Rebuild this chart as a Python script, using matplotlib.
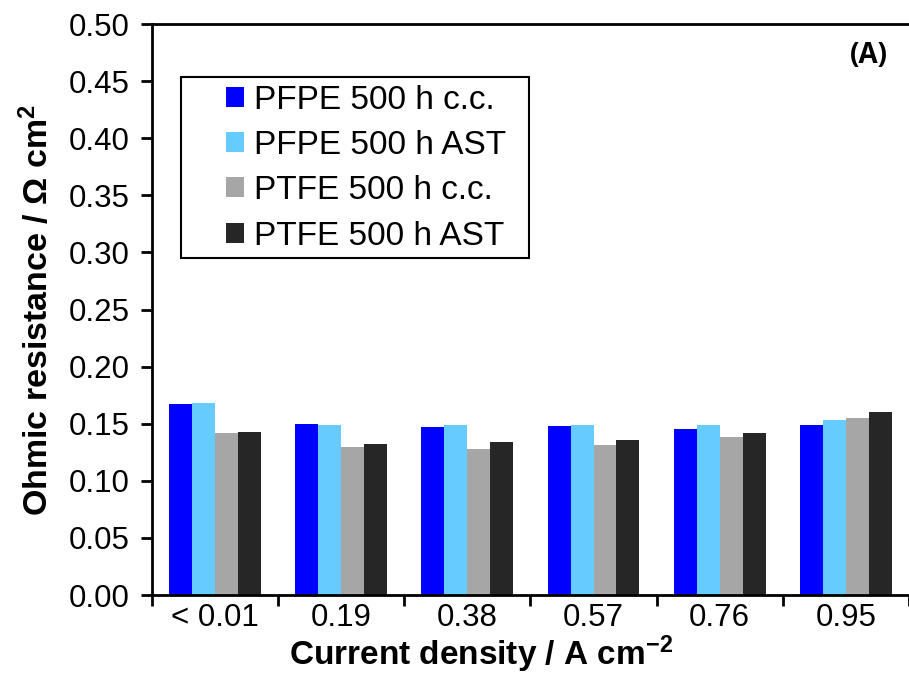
import matplotlib.pyplot as plt
from matplotlib.patches import Rectangle
import numpy as np

plt.rcParams['font.family'] = ['Liberation Sans', 'DejaVu Sans']
plt.rcParams['mathtext.fontset'] = 'custom'
plt.rcParams['mathtext.rm'] = 'Liberation Sans:bold'
plt.rcParams['mathtext.default'] = 'rm'

# Data
categories = ['< 0.01', '0.19', '0.38', '0.57', '0.76', '0.95']
series_names = ['PFPE 500 h c.c.', 'PFPE 500 h AST', 'PTFE 500 h c.c.', 'PTFE 500 h AST']
pfpe_cc = [0.167, 0.150, 0.147, 0.148, 0.145, 0.149]
pfpe_ast = [0.168, 0.149, 0.149, 0.149, 0.149, 0.153]
ptfe_cc = [0.142, 0.130, 0.128, 0.131, 0.138, 0.155]
ptfe_ast = [0.143, 0.132, 0.134, 0.136, 0.142, 0.160]
colors = ['#0000FF', '#66CCFF', '#A6A6A6', '#262626']

series = [pfpe_cc, pfpe_ast, ptfe_cc, ptfe_ast]

fig = plt.figure(figsize=(9.09, 6.77), dpi=100)
ax = fig.add_axes([0.167, 0.121, 0.833, 0.8435])

x = np.arange(len(categories))
w = 0.182
for i, (vals, name, c) in enumerate(zip(series, series_names, colors)):
    ax.bar(x + (i - 1.5) * w, vals, width=w, color=c, label=name)

ax.set_xlim(-0.5, len(categories) - 0.5)
ax.set_ylim(0, 0.5)
yt = np.arange(0, 0.501, 0.05)
ax.set_yticks(yt)
ax.set_yticklabels([f'{v:.2f}' for v in yt])
ax.set_xticks(x)
ax.set_xticklabels(categories)
ax.set_xticks(np.arange(-0.5, len(categories), 1), minor=True)
ax.tick_params(axis='x', which='major', length=0, pad=6, labelsize=22.5)
ax.tick_params(axis='x', which='minor', length=8, width=2, direction='out')
ax.tick_params(axis='y', length=8, width=2, direction='out', labelsize=22.5, pad=8)

for s in ['left', 'bottom', 'top']:
    ax.spines[s].set_linewidth(2)
ax.spines['right'].set_visible(False)

ax.set_xlabel('Current density / A cm$^{-2}$', fontsize=24, fontweight='bold')
ax.xaxis.set_label_coords(0.435, -0.068)
ax.set_ylabel('Ohmic resistance / Ω cm$^{2}$', fontsize=24.5, fontweight='bold', labelpad=10)

ax.text(0.972, 0.945, '(A)', transform=ax.transAxes, fontsize=20, fontweight='bold',
        family=['Open Sans', 'DejaVu Sans'], ha='right', va='center')

# legend frame drawn separately: the reference box has a wide left margin
ax.add_patch(Rectangle((0.0383, 0.590), 0.4597, 0.317, transform=ax.transAxes,
                       facecolor='white', edgecolor='black', linewidth=1.5,
                       zorder=4, clip_on=False))
leg = ax.legend(loc='upper left', bbox_to_anchor=(0.0978, 0.894), fontsize=24,
                frameon=False, handlelength=0.55, handleheight=0.55,
                handletextpad=0.3, labelspacing=0.43, borderpad=0,
                borderaxespad=0)
leg.set_zorder(5)

fig.savefig('out.png', dpi=100)
